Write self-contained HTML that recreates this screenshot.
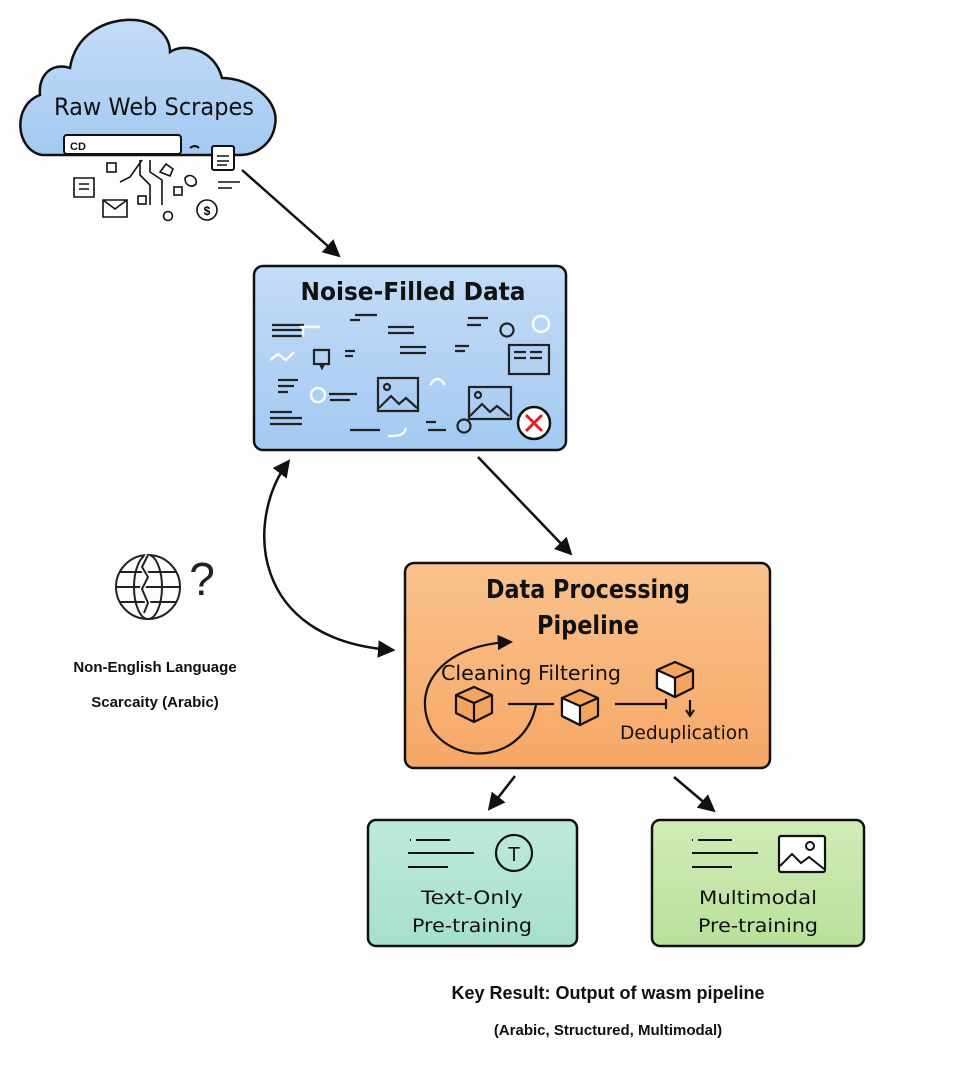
<!DOCTYPE html>
<html><head><meta charset="utf-8"><style>
html,body{margin:0;padding:0;background:#fdfdfd;}
svg{display:block;font-family:"Liberation Sans","DejaVu Sans",sans-serif;}
</style></head><body>
<svg width="960" height="1088" viewBox="0 0 960 1088" xmlns="http://www.w3.org/2000/svg">
<defs>
<marker id="ah" viewBox="0 0 10 10" refX="8" refY="5" markerWidth="7" markerHeight="7" orient="auto-start-reverse"><path d="M0,0 L10,5 L0,10 z" fill="#111"/></marker>
<linearGradient id="gb" x1="0" y1="0" x2="0" y2="1"><stop offset="0" stop-color="#c4dcf7"/><stop offset="1" stop-color="#a3c9f2"/></linearGradient>
<linearGradient id="go" x1="0" y1="0" x2="0" y2="1"><stop offset="0" stop-color="#f9c28d"/><stop offset="1" stop-color="#f6a766"/></linearGradient>
<linearGradient id="gt" x1="0" y1="0" x2="0" y2="1"><stop offset="0" stop-color="#bfeadb"/><stop offset="1" stop-color="#a6dfcd"/></linearGradient>
<linearGradient id="gg" x1="0" y1="0" x2="0" y2="1"><stop offset="0" stop-color="#d2ecb8"/><stop offset="1" stop-color="#b9e09a"/></linearGradient>
</defs>

<!-- cloud -->
<path d="M42,155 C15,150 12,105 40,95 C38,75 52,62 70,68 C75,35 105,18 135,20 C158,22 170,38 170,52 C185,42 215,50 222,78 C250,78 280,100 275,125 C272,145 255,155 240,155 Z" fill="url(#gb)" stroke="#111" stroke-width="2.5"/>
<text x="154" y="115" font-size="24" text-anchor="middle" fill="#111" font-family="DejaVu Sans, sans-serif" textLength="200" lengthAdjust="spacingAndGlyphs">Raw Web Scrapes</text>
<rect x="64" y="135" width="117" height="19" rx="3" fill="#fff" stroke="#111" stroke-width="2"/>
<text x="70" y="150" font-size="11" font-weight="bold" fill="#111">CD</text>
<path d="M190,148c4,-3 7,-2 9,0" stroke="#111" stroke-width="2" fill="none"/>
<rect x="212" y="146" width="22" height="24" rx="2" fill="#fff" stroke="#111" stroke-width="2"/>
<g stroke="#111" stroke-width="1.6" fill="none">
<path d="M217,156h12M217,161h12M217,165h10"/>
<path d="M74,178h20v19h-20zM79,184h10M79,189h10"/><path d="M103,200h24v17h-24zM103,200l12,9l12,-9"/>
<rect x="107" y="163" width="9" height="9"/><rect x="138" y="196" width="8" height="8"/><rect x="174" y="187" width="8" height="8"/>
<path d="M120,182l10,-5l12,-17M140,160v15l10,10v20M150,160v12l12,8v25"/><circle cx="168" cy="216" r="4.5"/>
<circle cx="207" cy="210" r="10"/><path d="M218,182h22M218,188h14"/>
<path d="M160,172l6,-8l7,5l-3,7z"/><path d="M185,178c5,-6 13,0 11,6c-4,4 -11,2 -11,-6z"/>
</g>
<text x="207" y="215" font-size="12" text-anchor="middle" font-weight="bold">$</text>
<line x1="242" y1="170" x2="338" y2="255" stroke="#111" stroke-width="2.5" marker-end="url(#ah)"/>

<!-- noise box -->
<rect x="254" y="266" width="312" height="184" rx="9" fill="url(#gb)" stroke="#111" stroke-width="2.5"/>
<text x="413" y="300" font-size="25" font-weight="bold" text-anchor="middle" fill="#111" font-family="DejaVu Sans, sans-serif" textLength="225" lengthAdjust="spacingAndGlyphs">Noise-Filled Data</text>
<g stroke="#222" stroke-width="2.2" fill="none">
<path d="M272,325h32M272,330h32M272,336h32M355,315h22M350,320h10M388,327h26M388,333h26M468,318h20M467,325h14M400,347h26M400,353h26M455,346h14M455,351h10M345,351h10M345,356h8M278,380h20M278,386h16M278,392h10M270,412h22M270,418h32M270,424h32M329,394h28M330,400h20M350,430h30M428,430h18M426,422h10"/>
<circle cx="507" cy="330" r="6.5"/><rect x="509" y="345" width="40" height="29"/><path d="M514,352h12M530,352h12M514,358h12M530,358h12"/>
<path d="M314,350h15v14h-15zM320,364l2,4l2,-4"/>
<rect x="378" y="378" width="40" height="33"/><circle cx="387" cy="387" r="3"/><path d="M379,408l12,-12l8,8l7,-6l11,10"/>
<rect x="469" y="387" width="42" height="32"/><circle cx="478" cy="395" r="3"/><path d="M470,416l12,-12l8,8l7,-6l12,10"/>
<circle cx="464" cy="426" r="6.5"/>
</g>
<g stroke="#fff" stroke-width="2.5" fill="none" opacity="0.9"><circle cx="541" cy="324" r="8"/><circle cx="318" cy="395" r="7"/><path d="M270,360l8,-6l8,6l8,-8M430,385c5,-8 10,-8 15,0M300,327h20M303,327v10M388,436c10,0 16,0 18,-8"/></g>
<circle cx="534" cy="423" r="16" fill="#fff" stroke="#111" stroke-width="2.5"/>
<path d="M526,415l16,16M542,415l-16,16" stroke="#e02020" stroke-width="3"/>

<line x1="478" y1="457" x2="570" y2="553" stroke="#111" stroke-width="2.5" marker-end="url(#ah)"/>

<!-- curved double arrow -->
<path d="M288,462 C245,520 250,640 392,650" fill="none" stroke="#111" stroke-width="2.5" marker-start="url(#ah)" marker-end="url(#ah)"/>

<!-- globe -->
<g stroke="#222" stroke-width="2" fill="none">
<circle cx="148" cy="587" r="32"/><ellipse cx="148" cy="587" rx="14" ry="32"/><path d="M116,587h64M120,572h56M120,602h56"/>
<path d="M148,555l-6,12l6,10l-6,12l6,14l-4,10" stroke="#fff" stroke-width="5"/><path d="M148,555l-6,12l6,10l-6,12l6,14l-4,10"/>
</g>
<text x="202" y="595" font-size="46" text-anchor="middle" fill="#222">?</text>
<text x="155" y="672" font-size="15" font-weight="bold" text-anchor="middle" fill="#111">Non-English Language</text>
<text x="155" y="707" font-size="15" font-weight="bold" text-anchor="middle" fill="#111">Scarcaity (Arabic)</text>

<!-- orange box -->
<rect x="405" y="563" width="365" height="205" rx="9" fill="url(#go)" stroke="#111" stroke-width="2.5"/>
<text x="588" y="598" font-size="26" font-weight="bold" text-anchor="middle" fill="#111" font-family="DejaVu Sans, sans-serif" textLength="204" lengthAdjust="spacingAndGlyphs">Data Processing</text>
<text x="588" y="634" font-size="26" font-weight="bold" text-anchor="middle" fill="#111" font-family="DejaVu Sans, sans-serif" textLength="102" lengthAdjust="spacingAndGlyphs">Pipeline</text>
<text x="441" y="680" font-size="20" fill="#111" font-family="DejaVu Sans, sans-serif" textLength="180" lengthAdjust="spacingAndGlyphs">Cleaning Filtering</text>
<text x="620" y="739" font-size="19" fill="#111" font-family="DejaVu Sans, sans-serif" textLength="129" lengthAdjust="spacingAndGlyphs">Deduplication</text>
<path d="M536,705 C525,760 460,768 432,730 C410,690 440,645 510,642" fill="none" stroke="#111" stroke-width="2.2" marker-end="url(#ah)"/>
<g stroke="#111" stroke-width="2.2" fill="#f5a460" stroke-linejoin="round">
<path d="M456,695l18,-8l18,8v18l-18,9l-18,-9z"/><path d="M456,695l18,8l18,-8M474,703v19" fill="none"/>
<path d="M562,698l18,-8l18,8v18l-18,9l-18,-9z"/><path d="M562,698l18,8v19l-18,-9z" fill="#fff"/><path d="M580,706l18,-8" fill="none"/>
<path d="M657,670l18,-8l18,8v18l-18,9l-18,-9z"/><path d="M657,670l18,8v19l-18,-9z" fill="#fff"/><path d="M675,678l18,-8" fill="none"/>
</g>
<path d="M508,704h46M615,704h50M666,699v10M690,700v14" stroke="#111" stroke-width="2.2"/>
<path d="M686,710l4,6l4,-6" fill="none" stroke="#111" stroke-width="2"/>

<line x1="515" y1="776" x2="490" y2="808" stroke="#111" stroke-width="2.5" marker-end="url(#ah)"/>
<line x1="674" y1="777" x2="713" y2="810" stroke="#111" stroke-width="2.5" marker-end="url(#ah)"/>

<!-- teal box -->
<rect x="368" y="820" width="209" height="126" rx="8" fill="url(#gt)" stroke="#111" stroke-width="2.5"/>
<path d="M410,840h1M416,840h34M408,853h66M408,867h40" stroke="#111" stroke-width="2"/>
<circle cx="514" cy="853" r="18" fill="none" stroke="#111" stroke-width="2.2"/>
<text x="514" y="861" font-size="20" text-anchor="middle" fill="#111">T</text>
<text x="472" y="904" font-size="19" text-anchor="middle" fill="#111" font-family="DejaVu Sans, sans-serif" textLength="102" lengthAdjust="spacingAndGlyphs">Text-Only</text>
<text x="472" y="932" font-size="19" text-anchor="middle" fill="#111" font-family="DejaVu Sans, sans-serif" textLength="120" lengthAdjust="spacingAndGlyphs">Pre-training</text>

<!-- green box -->
<rect x="652" y="820" width="212" height="126" rx="8" fill="url(#gg)" stroke="#111" stroke-width="2.5"/>
<path d="M692,840h1M698,840h34M692,853h66M692,867h40" stroke="#111" stroke-width="2"/>
<rect x="779" y="836" width="46" height="36" rx="2" fill="#fff" stroke="#111" stroke-width="2.2"/>
<circle cx="810" cy="846" r="4" fill="none" stroke="#111" stroke-width="2"/>
<path d="M780,866l12,-12l9,9l8,-6l15,12" fill="none" stroke="#111" stroke-width="2"/>
<text x="758" y="904" font-size="19" text-anchor="middle" fill="#111" font-family="DejaVu Sans, sans-serif" textLength="118" lengthAdjust="spacingAndGlyphs">Multimodal</text>
<text x="758" y="932" font-size="19" text-anchor="middle" fill="#111" font-family="DejaVu Sans, sans-serif" textLength="120" lengthAdjust="spacingAndGlyphs">Pre-training</text>

<text x="608" y="999" font-size="18" font-weight="bold" text-anchor="middle" fill="#111">Key Result: Output of wasm pipeline</text>
<text x="608" y="1035" font-size="15" font-weight="bold" text-anchor="middle" fill="#111">(Arabic, Structured, Multimodal)</text>
</svg>
</body></html>
